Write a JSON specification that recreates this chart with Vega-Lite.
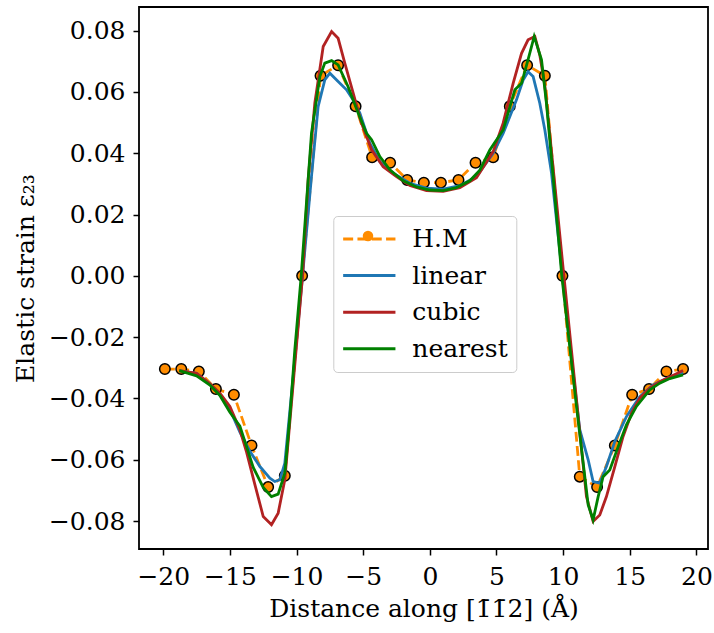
{
  "$schema": "https://vega.github.io/schema/vega-lite/v6.json",
  "width": 569,
  "height": 542,
  "autosize": {"type": "none"},
  "padding": {"left": 139, "top": 7, "right": 6, "bottom": 84},
  "background": "white",
  "config": {
    "view": {"stroke": "black", "strokeWidth": 1.8},
    "font": "DejaVu Serif",
    "axis": {"grid": false, "domain": false, "tickColor": "black", "tickWidth": 1.5, "tickSize": 6, "labelFont": "DejaVu Serif", "labelFontSize": 25, "labelColor": "black", "titleFont": "DejaVu Serif", "titleFontSize": 25, "titleFontWeight": "normal", "titleColor": "black"}
  },
  "datasets": {
    "hm": [
      {"x": -19.88, "y": -0.0304}, {"x": -18.65, "y": -0.0304}, {"x": -17.33, "y": -0.0312}, {"x": -16.05, "y": -0.0369},
      {"x": -14.7, "y": -0.0388}, {"x": -13.38, "y": -0.0553}, {"x": -12.13, "y": -0.0689}, {"x": -10.88, "y": -0.0652},
      {"x": -9.58, "y": 0.0}, {"x": -8.2, "y": 0.0653}, {"x": -6.88, "y": 0.0687}, {"x": -5.57, "y": 0.0553},
      {"x": -4.33, "y": 0.0387}, {"x": -2.98, "y": 0.0369}, {"x": -1.7, "y": 0.0313}, {"x": -0.45, "y": 0.0304},
      {"x": 0.83, "y": 0.0304}, {"x": 2.15, "y": 0.0313}, {"x": 3.43, "y": 0.0369}, {"x": 4.75, "y": 0.0387},
      {"x": 6.0, "y": 0.0553}, {"x": 7.3, "y": 0.0687}, {"x": 8.63, "y": 0.0653}, {"x": 9.95, "y": 0.0},
      {"x": 11.25, "y": -0.0655}, {"x": 12.55, "y": -0.0689}, {"x": 13.88, "y": -0.0553}, {"x": 15.18, "y": -0.0388},
      {"x": 16.45, "y": -0.0369}, {"x": 17.75, "y": -0.0312}, {"x": 19.0, "y": -0.0304}
    ],
    "linear": [
      {"x": -18.8, "y": -0.0309}, {"x": -17.5, "y": -0.0318}, {"x": -16.5, "y": -0.0352}, {"x": -15.75, "y": -0.0388},
      {"x": -15.0, "y": -0.0436}, {"x": -14.25, "y": -0.051}, {"x": -13.5, "y": -0.0572}, {"x": -12.75, "y": -0.0622},
      {"x": -12.0, "y": -0.066}, {"x": -11.63, "y": -0.0671}, {"x": -11.25, "y": -0.0665}, {"x": -10.88, "y": -0.0611},
      {"x": -10.25, "y": -0.0328}, {"x": -9.55, "y": 0.0}, {"x": -8.88, "y": 0.0324}, {"x": -8.38, "y": 0.0552},
      {"x": -7.88, "y": 0.0639}, {"x": -7.5, "y": 0.0661}, {"x": -6.88, "y": 0.0634}, {"x": -6.25, "y": 0.0607},
      {"x": -5.75, "y": 0.0574}, {"x": -5.25, "y": 0.0531}, {"x": -4.5, "y": 0.0433}, {"x": -3.75, "y": 0.0373},
      {"x": -2.75, "y": 0.0335}, {"x": -1.5, "y": 0.0302}, {"x": -0.25, "y": 0.0286}, {"x": 1.0, "y": 0.0283},
      {"x": 2.25, "y": 0.0294}, {"x": 3.5, "y": 0.0324}, {"x": 4.75, "y": 0.04}, {"x": 5.5, "y": 0.0465},
      {"x": 6.5, "y": 0.0574}, {"x": 7.0, "y": 0.0639}, {"x": 7.37, "y": 0.0666}, {"x": 7.75, "y": 0.065},
      {"x": 8.25, "y": 0.0563}, {"x": 8.63, "y": 0.0476}, {"x": 9.13, "y": 0.0335}, {"x": 9.95, "y": 0.0},
      {"x": 10.75, "y": -0.0315}, {"x": 11.25, "y": -0.0502}, {"x": 11.88, "y": -0.06}, {"x": 12.25, "y": -0.0671},
      {"x": 12.75, "y": -0.0676}, {"x": 13.25, "y": -0.0622}, {"x": 13.88, "y": -0.054}, {"x": 14.75, "y": -0.0459},
      {"x": 15.75, "y": -0.0394}, {"x": 16.75, "y": -0.0356}, {"x": 17.75, "y": -0.0335}, {"x": 19.0, "y": -0.0315}
    ],
    "cubic": [
      {"x": -18.8, "y": -0.0309}, {"x": -17.5, "y": -0.0318}, {"x": -16.5, "y": -0.0352}, {"x": -15.75, "y": -0.0383},
      {"x": -15.0, "y": -0.0426}, {"x": -14.25, "y": -0.0502}, {"x": -13.75, "y": -0.0575}, {"x": -13.13, "y": -0.068},
      {"x": -12.5, "y": -0.0785}, {"x": -11.88, "y": -0.0812}, {"x": -11.38, "y": -0.0774}, {"x": -10.88, "y": -0.0665},
      {"x": -10.38, "y": -0.0415}, {"x": -9.55, "y": 0.0}, {"x": -9.13, "y": 0.0313}, {"x": -8.63, "y": 0.0563},
      {"x": -8.0, "y": 0.0748}, {"x": -7.37, "y": 0.0797}, {"x": -6.88, "y": 0.0775}, {"x": -6.38, "y": 0.0694},
      {"x": -5.75, "y": 0.0596}, {"x": -5.13, "y": 0.0498}, {"x": -4.37, "y": 0.0411}, {"x": -3.5, "y": 0.0356},
      {"x": -2.5, "y": 0.0324}, {"x": -1.5, "y": 0.0295}, {"x": -0.25, "y": 0.0278}, {"x": 1.0, "y": 0.0276},
      {"x": 2.25, "y": 0.0288}, {"x": 3.5, "y": 0.032}, {"x": 4.75, "y": 0.0405}, {"x": 5.5, "y": 0.0498},
      {"x": 6.25, "y": 0.0628}, {"x": 6.88, "y": 0.0726}, {"x": 7.37, "y": 0.077}, {"x": 7.88, "y": 0.0781},
      {"x": 8.25, "y": 0.072}, {"x": 8.63, "y": 0.062}, {"x": 9.13, "y": 0.0405}, {"x": 10.0, "y": 0.0025},
      {"x": 10.75, "y": -0.0295}, {"x": 11.25, "y": -0.051}, {"x": 11.75, "y": -0.072}, {"x": 12.25, "y": -0.0801},
      {"x": 12.75, "y": -0.078}, {"x": 13.25, "y": -0.072}, {"x": 13.88, "y": -0.0622}, {"x": 14.5, "y": -0.0524},
      {"x": 15.13, "y": -0.0448}, {"x": 15.75, "y": -0.0399}, {"x": 16.5, "y": -0.0366}, {"x": 17.25, "y": -0.0345},
      {"x": 18.0, "y": -0.033}, {"x": 19.0, "y": -0.0309}
    ],
    "nearest": [
      {"x": -18.8, "y": -0.0309}, {"x": -17.5, "y": -0.0326}, {"x": -16.5, "y": -0.0356}, {"x": -15.75, "y": -0.039},
      {"x": -15.0, "y": -0.0445}, {"x": -14.5, "y": -0.0475}, {"x": -14.25, "y": -0.049}, {"x": -13.75, "y": -0.0557},
      {"x": -13.25, "y": -0.0625}, {"x": -12.5, "y": -0.069}, {"x": -11.88, "y": -0.072}, {"x": -11.38, "y": -0.0712},
      {"x": -10.88, "y": -0.0644}, {"x": -10.5, "y": -0.0459}, {"x": -10.13, "y": -0.0241}, {"x": -9.65, "y": 0.0},
      {"x": -8.88, "y": 0.0465}, {"x": -8.25, "y": 0.065}, {"x": -7.88, "y": 0.0694}, {"x": -7.37, "y": 0.0702},
      {"x": -6.88, "y": 0.0688}, {"x": -6.13, "y": 0.0617}, {"x": -5.38, "y": 0.0531}, {"x": -4.75, "y": 0.0465},
      {"x": -4.37, "y": 0.0444}, {"x": -3.75, "y": 0.0389}, {"x": -3.0, "y": 0.0346}, {"x": -2.0, "y": 0.031},
      {"x": -1.0, "y": 0.029}, {"x": 0.0, "y": 0.028}, {"x": 1.0, "y": 0.0278}, {"x": 2.0, "y": 0.0288},
      {"x": 3.0, "y": 0.031}, {"x": 3.75, "y": 0.0345}, {"x": 4.5, "y": 0.0411}, {"x": 5.5, "y": 0.0476},
      {"x": 6.38, "y": 0.0607}, {"x": 6.88, "y": 0.0628}, {"x": 7.37, "y": 0.0705}, {"x": 7.83, "y": 0.0781},
      {"x": 8.38, "y": 0.0705}, {"x": 8.75, "y": 0.0563}, {"x": 9.25, "y": 0.0324}, {"x": 9.9, "y": 0.0},
      {"x": 11.0, "y": -0.0425}, {"x": 11.88, "y": -0.0747}, {"x": 12.25, "y": -0.0796}, {"x": 12.63, "y": -0.072},
      {"x": 13.0, "y": -0.0655}, {"x": 13.5, "y": -0.0633}, {"x": 14.13, "y": -0.0557}, {"x": 14.75, "y": -0.0486},
      {"x": 15.5, "y": -0.0426}, {"x": 16.5, "y": -0.0372}, {"x": 17.25, "y": -0.035}, {"x": 18.0, "y": -0.0335},
      {"x": 19.0, "y": -0.0323}
    ]
  },
  "encoding": {
    "x": {"field": "x", "type": "quantitative", "scale": {"domain": [-21.82, 20.87], "nice": false, "zero": false},
      "axis": {"values": [-20, -15, -10, -5, 0, 5, 10, 15, 20], "title": "Distance along [1̄1̄2] (Å)", "labelPadding": 9, "titlePadding": 7}},
    "y": {"field": "y", "type": "quantitative", "scale": {"domain": [-0.0891, 0.0877], "nice": false, "zero": false},
      "axis": {"values": [-0.08, -0.06, -0.04, -0.02, 0, 0.02, 0.04, 0.06, 0.08], "format": ".2f", "title": "Elastic strain ε₂₃", "labelPadding": 8, "titlePadding": 10}}
  },
  "layer": [
    {
      "data": {"name": "hm"},
      "mark": {"type": "line", "strokeWidth": 2.8, "strokeDash": [10, 4.3]},
      "encoding": {
        "color": {"datum": "H.M", "type": "nominal",
          "scale": {"domain": ["H.M", "linear", "cubic", "nearest"], "range": ["#ff8c00", "#1f77b4", "#b22222", "#008000"]},
          "legend": {"title": null, "orient": "none", "legendX": 194.3, "legendY": 209, "symbolType": "stroke", "symbolSize": 2735, "symbolStrokeWidth": 3,
            "labelFont": "DejaVu Serif", "labelFontSize": 25, "labelColor": "black", "labelOffset": 15, "padding": 8, "rowPadding": 6.6, "clipHeight": 30,
            "fillColor": "rgba(255,255,255,0.8)", "strokeColor": "#cccccc", "cornerRadius": 4, "symbolOffset": 0, "labelLimit": 300,
            "encode": {"symbols": {"update": {"strokeDash": {"signal": "datum.value === 'H.M' ? [10, 4.3] : [1, 0]"}}}}}
        }
      }
    },
    {
      "data": {"name": "hm"},
      "mark": {"type": "point", "filled": true, "fill": "#ff8c00", "stroke": "black", "strokeWidth": 1.5, "size": 110, "opacity": 1},
      "encoding": {
        "shape": {"datum": "H.M", "type": "nominal", "scale": {"domain": ["H.M"], "range": ["circle"]},
          "legend": {"title": null, "orient": "none", "legendX": 223, "legendY": 214, "padding": 0, "clipHeight": 30, "symbolSize": 110,
            "symbolFillColor": "#ff8c00", "symbolStrokeColor": "black", "symbolStrokeWidth": 1.5, "symbolOpacity": 1, "labelExpr": "''", "symbolOffset": 0, "labelOffset": 0,
            "encode": {"symbols": {"update": {"fill": {"value": "#ff8c00"}, "stroke": {"value": "black"}, "strokeWidth": {"value": 1.5}, "size": {"value": 110}, "opacity": {"value": 1}}}}}}
      }
    },
    {
      "data": {"name": "linear"},
      "mark": {"type": "line", "strokeWidth": 2.8},
      "encoding": {"color": {"datum": "linear", "type": "nominal"}}
    },
    {
      "data": {"name": "cubic"},
      "mark": {"type": "line", "strokeWidth": 2.8},
      "encoding": {"color": {"datum": "cubic", "type": "nominal"}}
    },
    {
      "data": {"name": "nearest"},
      "mark": {"type": "line", "strokeWidth": 2.8},
      "encoding": {"color": {"datum": "nearest", "type": "nominal"}}
    }
  ]
}
